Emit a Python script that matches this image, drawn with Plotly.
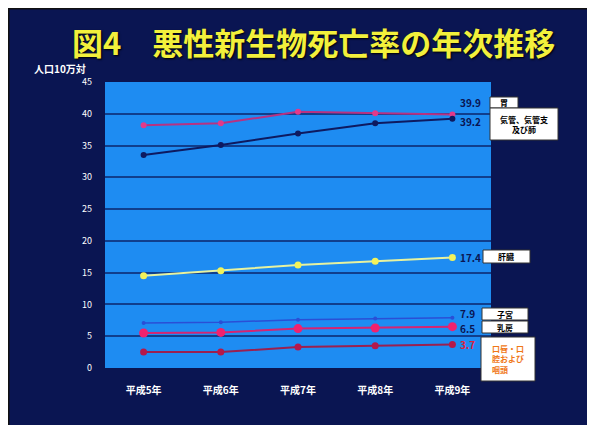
import plotly.graph_objects as go

years = ["平成5年", "平成6年", "平成7年", "平成8年", "平成9年"]
stomach = [38.2, 38.5, 40.3, 40.1, 39.9]
lung = [33.5, 35.1, 36.9, 38.5, 39.2]
liver = [14.5, 15.3, 16.2, 16.8, 17.4]
uterus = [7.1, 7.2, 7.6, 7.8, 7.9]
breast = [5.5, 5.6, 6.2, 6.3, 6.5]
oral = [2.5, 2.5, 3.3, 3.5, 3.7]
yticks = [0, 5, 10, 15, 20, 25, 30, 35, 40, 45]

NAVY = "#0A1552"
FONT = "Noto Sans CJK JP"

series = [
    (stomach, "#B83282", "#E23A8A", 6, 2),
    (lung, "#0E1A60", "#0E1A60", 6, 2),
    (liver, "#E6F2A0", "#F2F25A", 7, 2),
    (uterus, "#2A4FD6", "#2A4FD6", 4, 1.5),
    (breast, "#D62472", "#F0226E", 9, 2),
    (oral, "#9A2050", "#B5184A", 7, 2),
]

fig = go.Figure()
for vals, lc, mc, ms, lw in series:
    fig.add_trace(go.Scatter(x=years, y=vals, mode="lines+markers",
                             line=dict(color=lc, width=lw),
                             marker=dict(color=mc, size=ms),
                             showlegend=False))

# value labels at the last point
value_labels = [
    (stomach[-1], "39.9", NAVY, 12),
    (lung[-1], "39.2", NAVY, -3),
    (liver[-1], "17.4", NAVY, 0),
    (uterus[-1], "7.9", NAVY, 4),
    (breast[-1], "6.5", NAVY, -2),
    (oral[-1], "3.7", "#E0203A", 0),
]
for v, txt, col, ys in value_labels:
    fig.add_annotation(x=years[-1], y=v, text="<b>" + txt + "</b>", showarrow=False,
                       xanchor="left", xshift=6, yshift=ys,
                       font=dict(family=FONT, size=10, color=col))

# page offset of 8px (browser body margin); plot area in screen px x 105..491, y 82..368
def px(x):
    return (x - 105) / 386.0

def py(y):
    return (368 - y) / 286.0

boxes = [
    (490, 97, 518, 108, "胃", "#000000"),
    (490, 108, 558, 140, "気管、気管支<br>及び肺", "#000000"),
    (483, 250, 530, 263, "肝臓", "#000000"),
    (482, 308, 528, 320, "子宮", "#000000"),
    (482, 321, 528, 333, "乳房", "#000000"),
    (481, 337, 535, 381, "口唇・口<br>腔および<br>咽頭", "#F07818"),
]
for x0, y0, x1, y1, txt, col in boxes:
    fig.add_shape(type="rect", xref="paper", yref="paper",
                  x0=px(x0), x1=px(x1), y0=py(y1), y1=py(y0),
                  fillcolor="white", line=dict(color="#333333", width=1), layer="above")
    fig.add_annotation(xref="paper", yref="paper", x=px((x0 + x1) / 2), y=py((y0 + y1) / 2),
                       text="<b>" + txt + "</b>", showarrow=False, xanchor="center", yanchor="middle",
                       align="left" if col != "#000000" else "center",
                       font=dict(family=FONT, size=8, color=col))

# dark frame edge at top/left of the panel
fig.add_shape(type="line", xref="paper", yref="paper", x0=px(8), x1=px(600), y0=py(8.7), y1=py(8.7),
              line=dict(color="#111111", width=1.5), layer="above")
fig.add_shape(type="line", xref="paper", yref="paper", x0=px(8.7), x1=px(8.7), y0=py(430), y1=py(8),
              line=dict(color="#111111", width=1.5), layer="above")

# title and unit
fig.add_annotation(xref="paper", yref="paper", x=px(313), y=py(41),
                   text="<b>図4　悪性新生物死亡率の年次推移</b>", showarrow=False,
                   xanchor="center", yanchor="middle",
                   font=dict(family=FONT, size=31, color="#F2F03C", shadow="1px 1px 2px #000000"))
fig.add_annotation(xref="paper", yref="paper", x=px(32), y=py(68),
                   text="<b>人口10万対</b>", showarrow=False, xanchor="left", yanchor="middle",
                   font=dict(family=FONT, size=10, color="white"))

fig.update_layout(
    width=587, height=417,
    margin=dict(l=97, r=104, t=74, b=57, autoexpand=False),
    paper_bgcolor=NAVY,
    plot_bgcolor="#1E8CF2",
    xaxis=dict(type="category", range=[-0.5, 4.5], showgrid=False, zeroline=False,
               showline=False, ticks="",
               tickfont=dict(family=FONT, size=10, color="white", weight="bold"),
               ticklabelstandoff=15),
    yaxis=dict(range=[0, 45], tickvals=yticks, showgrid=True, gridcolor="#103E8C",
               gridwidth=2, zeroline=False, showline=False, ticks="",
               tickfont=dict(family=FONT, size=9, color="white"),
               ticklabelstandoff=12),
)

fig.write_html("out.html")
